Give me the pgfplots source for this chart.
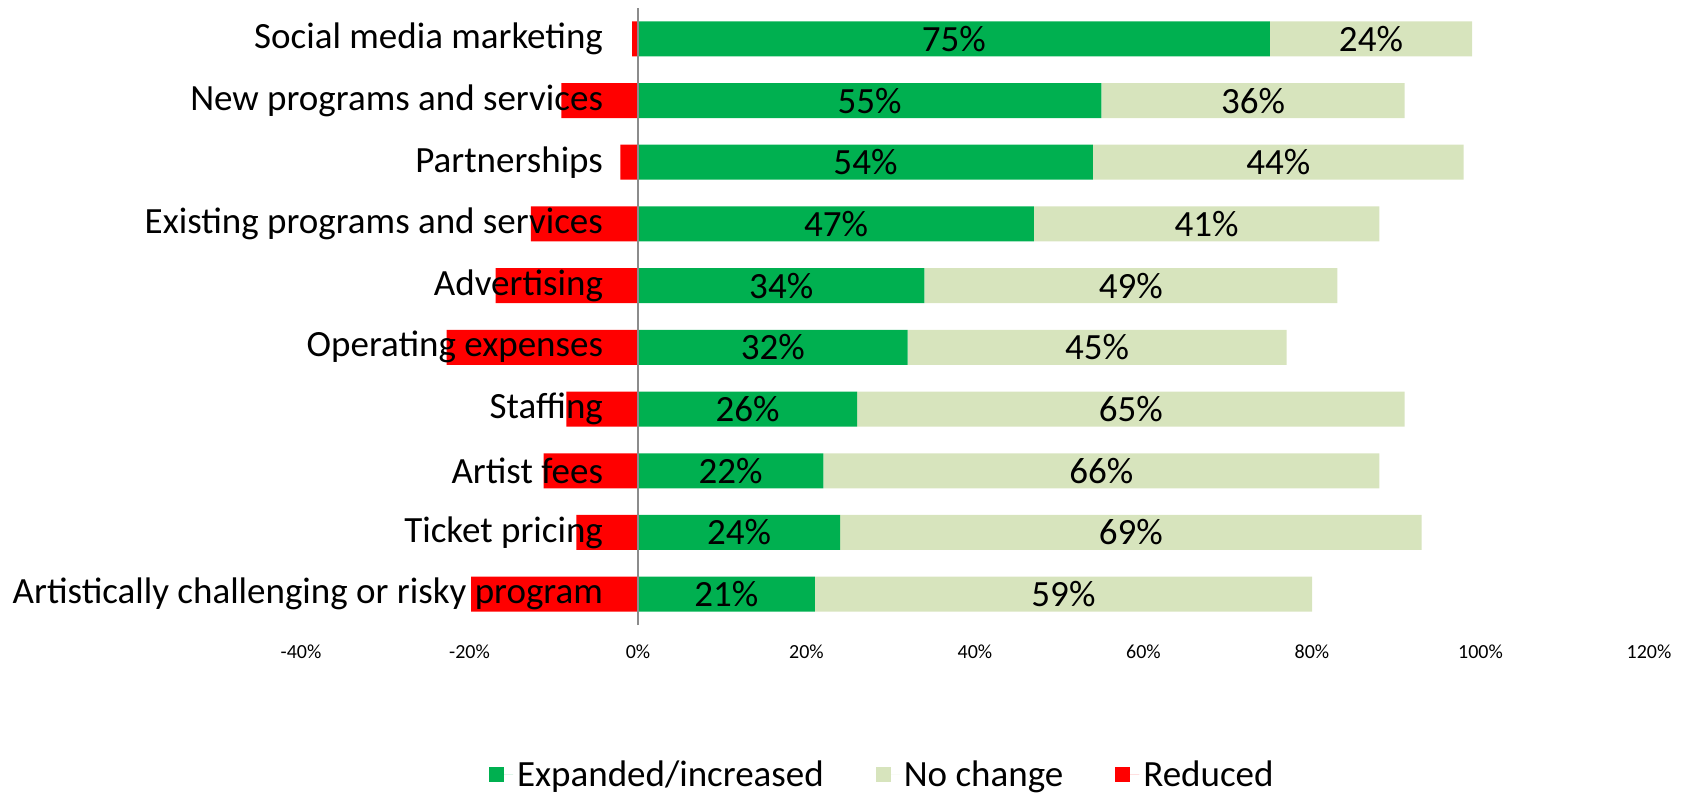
\documentclass[border=0pt]{standalone}
\usepackage{fontspec}
\setmainfont{Carlito}
\usepackage{pgfplots}
\usepackage{pgfplotstable}
\pgfplotsset{compat=1.18}
\definecolor{incr}{HTML}{00B050}
\definecolor{same}{HTML}{D7E4BD}
\definecolor{cut}{HTML}{FF0000}
\definecolor{zline}{HTML}{8C8C8C}

% pos: 9 = top row; red = reduced (negative), grow = expanded, same = no change
\pgfplotstableread{
pos red   grow same
9   -0.7  75   24
8   -9.1  55   36
7   -2.1  54   44
6   -12.7 47   41
5   -16.9 34   49
4   -22.7 32   45
3   -8.5  26   65
2   -11.2 22   66
1   -7.3  24   69
0   -19.8 21   59
}\budget

\newcommand{\bigtxt}{\fontsize{18.5}{22}\selectfont}

\begin{document}
\begin{tikzpicture}
\begin{axis}[
  scale only axis, width=674pt, height=308.5pt,
  xbar stacked, stack negative=separate, bar width=17.5pt,
  xmin=-40, xmax=120, ymin=-0.5, ymax=9.5,
  axis on top,
  xtick={-40,-20,...,120},
  xticklabel={\pgfmathprintnumber{\tick}\%},
  /pgf/number format/assume math mode=true,
  ytick={0,...,9},
  yticklabels={Artistically challenging or risky program,Ticket pricing,Artist fees,Staffing,Operating expenses,Advertising,Existing programs and services,Partnerships,New programs and services,Social media marketing},
  axis line style={draw=none},
  major tick length=0pt,
  xticklabel style={font=\fontsize{10}{12}\selectfont, yshift=-6.5pt},
  yticklabel style={font=\bigtxt, xshift=154.5pt},
  extra x ticks={0}, extra x tick labels={},
  extra x tick style={grid=major, major grid style={zline, line width=0.9pt}},
  legend columns=3,
  legend style={draw=none, fill=none, font=\bigtxt, at={(0.432,-0.243)}, anchor=center,
    /tikz/every even column/.append style={column sep=24pt}},
  legend image code/.code={\path[#1] (0pt,-3.75pt) rectangle (7.5pt,3.75pt);
    \path (0pt,0pt) -- (12pt,0pt);},
  nodes near coords style={font=\bigtxt, text=black, anchor=center},
]
\addplot[fill=cut, draw=none, forget plot] table[x=red, y=pos] {\budget};

\addplot[fill=incr, draw=none, point meta=explicit,
  nodes near coords={\pgfmathprintnumber{\pgfplotspointmeta}\%}]
  table[x=grow, y=pos, meta=grow] {\budget};
\addlegendentry{Expanded/increased}

\addplot[fill=same, draw=none, point meta=explicit,
  nodes near coords={\pgfmathprintnumber{\pgfplotspointmeta}\%}]
  table[x=same, y=pos, meta=same] {\budget};
\addlegendentry{No change}

\addlegendimage{fill=cut, draw=none}
\addlegendentry{Reduced}

\coordinate (bl) at (rel axis cs:0,0);
\coordinate (tr) at (rel axis cs:1,1);
\end{axis}
\pgfresetboundingbox
\path[use as bounding box] ([xshift=-150.5pt,yshift=-87pt]bl) rectangle ([xshift=19.5pt,yshift=4pt]tr);
\end{tikzpicture}
\end{document}
